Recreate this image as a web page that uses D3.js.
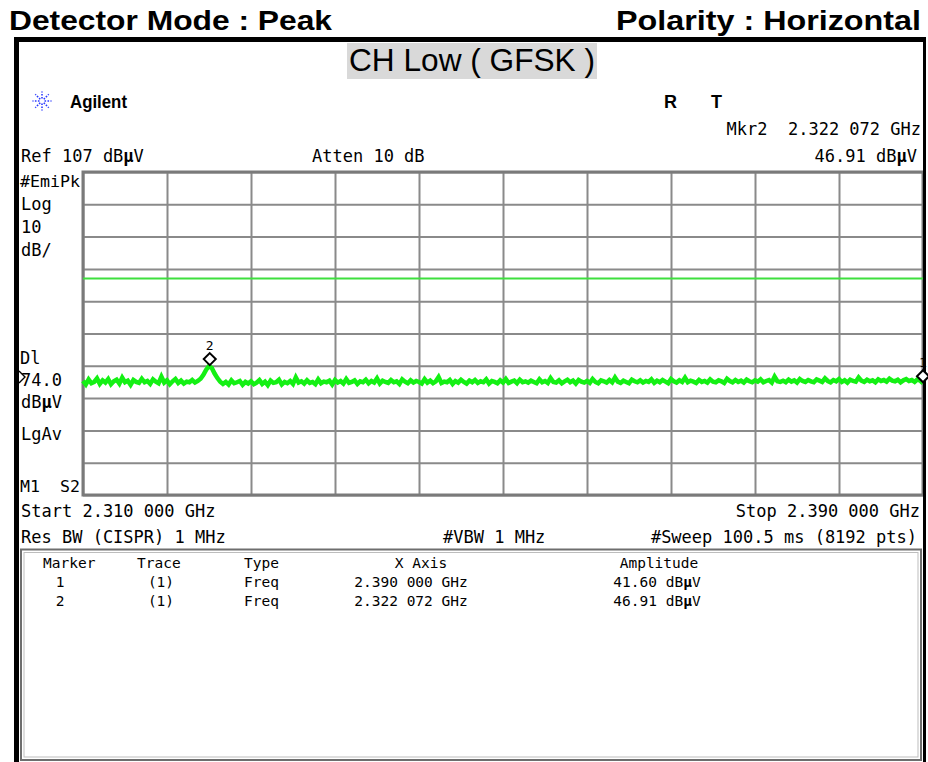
<!DOCTYPE html>
<html>
<head>
<meta charset="utf-8">
<script src="https://cdn.jsdelivr.net/npm/d3@7"></script>
<style>
  html, body { margin: 0; padding: 0; background: #fff; }
  svg { display: block; }
  text { white-space: pre; }
</style>
</head>
<body>
<svg id="chart" width="928" height="762"></svg>
<script>
// ---- Analyzer settings ----
const sweepStartMHz = 2310;
const sweepStopMHz = 2390;
const refLevel = 107;          // dBµV, top of screen
const dbPerDiv = 10;
const displayLine = 74.0;      // dBµV
const gridFreqs = [2310, 2318, 2326, 2334, 2342, 2350, 2358, 2366, 2374, 2382, 2390];
const gridLevels = [107, 97, 87, 77, 67, 57, 47, 37, 27, 17, 7];

// ---- Trace 1 (dBµV), evenly spaced across the sweep ----
const traceLevels = [
  42.3,41.2,42.8,41.6,42.0,43.1,41.4,42.5,41.8,42.9,41.3,42.2,42.7,41.5,43.3,41.9,42.4,41.1,42.6,42.0,
  41.7,43.0,41.9,42.3,41.4,42.8,42.1,41.6,43.6,41.8,42.5,41.3,42.2,42.9,41.7,42.4,41.5,42.1,41.9,42.6,
  41.8,42.3,43.0,44.2,45.8,46.9,46.3,44.6,43.2,42.1,41.4,42.0,41.2,42.5,41.6,41.9,42.3,41.1,42.0,41.5,
  42.2,41.3,41.8,42.6,41.4,42.1,41.0,42.4,41.7,41.9,42.7,41.2,42.0,41.6,42.3,41.4,43.4,41.8,42.2,41.5,
  42.5,41.7,42.0,41.3,42.8,41.6,42.1,41.9,42.4,41.2,42.6,41.8,42.3,41.5,42.9,41.7,42.0,42.5,41.4,42.2,
  41.9,42.7,41.6,42.3,41.8,43.1,41.5,42.4,42.0,41.7,42.6,41.9,42.2,41.4,42.8,42.1,41.6,42.5,41.8,42.3,
  42.0,41.5,42.9,41.8,42.4,41.6,42.2,43.5,41.7,42.1,41.9,42.6,41.4,42.3,41.8,42.7,42.0,41.5,42.4,41.9,
  42.6,41.7,42.2,41.9,42.8,41.5,42.3,42.0,41.6,42.5,41.8,42.9,41.7,42.1,42.4,41.6,42.7,41.9,42.2,41.8,
  42.4,42.0,41.6,42.8,41.9,42.3,41.7,43.2,42.0,41.8,42.5,41.6,42.2,42.7,41.9,42.4,41.5,42.6,42.1,41.8,
  42.3,41.7,42.9,42.0,41.6,42.5,42.2,41.8,42.6,41.9,43.4,42.1,41.7,42.4,42.0,41.6,42.7,42.2,41.9,42.5,
  41.8,42.3,42.0,42.8,41.7,42.4,41.9,42.6,42.1,41.6,42.9,42.2,41.8,42.5,42.0,43.3,41.9,42.4,42.1,41.7,
  42.6,42.0,42.3,41.8,42.8,42.1,41.9,42.5,42.2,41.7,43.0,42.3,41.9,42.6,42.0,42.4,41.8,42.7,42.2,41.9,
  42.5,42.1,42.8,41.9,42.3,42.6,41.8,43.6,42.2,42.0,42.4,41.9,42.7,42.1,42.5,41.8,42.9,42.3,42.0,42.6,
  42.2,41.9,42.8,42.4,42.0,43.1,42.3,41.9,42.6,42.2,42.9,42.0,42.5,41.8,42.7,42.3,42.1,43.4,42.4,42.0,
  42.7,42.2,42.5,41.9,42.8,42.3,42.6,42.1,43.0,42.4,42.2,42.7,41.9,42.5,42.9,42.3,42.6,42.0,42.8,42.4,
  41.6
];

// ---- Markers ----
const markerIds = [1, 2];
const markerFreqsMHz = [2390.000, 2322.072];
const markerAmps = [41.60, 46.91];

// ---- Layout ----
const svg = d3.select("#chart");
const plot = { left: 83, top: 172, right: 923, bottom: 495 };

const x = d3.scaleLinear().domain([sweepStartMHz, sweepStopMHz]).range([plot.left, plot.right]);
const y = d3.scaleLinear().domain([refLevel - 10 * dbPerDiv, refLevel]).range([plot.bottom, plot.top]);

const monoFont = "'DejaVu Sans Mono', 'Liberation Mono', monospace";
const sansFont = "'Liberation Sans', Arial, sans-serif";
const SCREEN_SIZE = 17;   // main screen annotation text
const TABLE_SIZE = 14.5;  // marker table text

const fmtGHz = f => {
  const s = (f / 1000).toFixed(6);
  return s.slice(0, 5) + " " + s.slice(5) + " GHz";
};
const fmtAmp = a => a.toFixed(2) + " dBµV";

// Sans-serif label, optionally fitted to a given width.
function sans(parent, str, xPos, yPos, size, weight, len) {
  const t = parent.append("text")
    .attr("x", xPos).attr("y", yPos)
    .attr("font-family", sansFont)
    .attr("font-size", size)
    .attr("font-weight", weight || "normal")
    .attr("fill", "#000")
    .text(str);
  if (len) t.attr("textLength", len).attr("lengthAdjust", "spacingAndGlyphs");
  return t;
}

// Instrument readout in the fixed-pitch screen font; a "µ" is drawn heavier.
function readout(parent, str, xPos, yPos, size = SCREEN_SIZE, anchor) {
  const t = parent.append("text")
    .attr("x", xPos).attr("y", yPos)
    .attr("font-family", monoFont)
    .attr("font-size", size)
    .attr("xml:space", "preserve")
    .attr("fill", "#000");
  if (anchor) t.attr("text-anchor", anchor);
  const k = str.indexOf("µ");
  if (k < 0) {
    t.text(str);
  } else {
    t.append("tspan").text(str.slice(0, k));
    t.append("tspan").attr("font-weight", "bold").text("µ");
    t.append("tspan").text(str.slice(k + 1));
  }
  return t;
}

// ---- Page headings ----
sans(svg, "Detector Mode : Peak", 9, 30, 28, "bold", 323);
sans(svg, "Polarity : Horizontal", 616, 30, 28, "bold", 305);

svg.append("rect").attr("x", 347).attr("y", 43).attr("width", 250).attr("height", 36).attr("fill", "#d9d9d9");
sans(svg, "CH Low ( GFSK )", 349, 71, 32, "normal", 246);

// ---- Instrument header ----
const logo = svg.append("g").attr("transform", "translate(42,101)");
d3.range(8).forEach(i => {
  const a = i * Math.PI / 4;
  logo.append("line")
    .attr("x1", Math.cos(a) * 2.5).attr("y1", Math.sin(a) * 2.5)
    .attr("x2", Math.cos(a) * 9.5).attr("y2", Math.sin(a) * 9.5)
    .attr("stroke", "#2b3bff").attr("stroke-width", 1.6)
    .attr("stroke-dasharray", "1.6,1.4");
});
sans(svg, "Agilent", 70, 108, 18, "bold", 57);
sans(svg, "R", 664, 108, 18, "bold");
sans(svg, "T", 711, 108, 18, "bold");

readout(svg, "Mkr" + markerIds[1] + "  " + fmtGHz(markerFreqsMHz[1]), 921, 135, SCREEN_SIZE, "end");
readout(svg, "Ref " + refLevel + " dBµV", 21, 162);
readout(svg, "Atten 10 dB", 312, 162);
readout(svg, fmtAmp(markerAmps[1]), 917, 162, SCREEN_SIZE, "end");

// ---- Left annotation column ----
readout(svg, "#EmiPk", 20, 187, 16.6);
readout(svg, "Log", 21, 210);
readout(svg, String(dbPerDiv), 21, 233);
readout(svg, "dB/", 21, 256);
readout(svg, "Dl", 20, 364);
readout(svg, displayLine.toFixed(1), 21, 386);
svg.append("path").attr("d", "M19,371 L25,377 L19,383").attr("fill", "none").attr("stroke", "#000").attr("stroke-width", 1.4);
readout(svg, "dBµV", 21, 408);
readout(svg, "LgAv", 21, 440);
readout(svg, "M1  S2", 20, 492, 16.6);

// ---- Grid ----
const gridG = svg.append("g");
gridG.append("g")
  .attr("transform", `translate(0,${plot.bottom})`)
  .call(d3.axisBottom(x).tickValues(gridFreqs).tickSize(-(plot.bottom - plot.top)).tickFormat(""))
  .call(g => g.select(".domain").remove())
  .call(g => g.selectAll(".tick line").attr("stroke", "#8a8a8a").attr("stroke-width", 2));
gridG.append("g")
  .attr("transform", `translate(${plot.left},0)`)
  .call(d3.axisLeft(y).tickValues(gridLevels).tickSize(-(plot.right - plot.left)).tickFormat(""))
  .call(g => g.select(".domain").remove())
  .call(g => g.selectAll(".tick line").attr("stroke", "#8a8a8a").attr("stroke-width", 2));
svg.append("rect")
  .attr("x", plot.left).attr("y", plot.top)
  .attr("width", plot.right - plot.left).attr("height", plot.bottom - plot.top)
  .attr("fill", "none").attr("stroke", "#7a7a7a").attr("stroke-width", 3);

// ---- Display line ----
svg.append("line")
  .attr("x1", plot.left).attr("x2", plot.right)
  .attr("y1", y(displayLine)).attr("y2", y(displayLine))
  .attr("stroke", "#3ee03e").attr("stroke-width", 2);

// ---- Trace ----
const step = (sweepStopMHz - sweepStartMHz) / (traceLevels.length - 1);
const traceLine = d3.line()
  .x((d, i) => x(sweepStartMHz + i * step))
  .y(d => y(d));
svg.append("path")
  .datum(traceLevels)
  .attr("d", traceLine)
  .attr("fill", "none")
  .attr("stroke", "#14f014")
  .attr("stroke-width", 4.5)
  .attr("stroke-linejoin", "miter");

// ---- Sweep info ----
readout(svg, "Start " + fmtGHz(sweepStartMHz), 21, 517);
readout(svg, "Stop " + fmtGHz(sweepStopMHz), 920, 517, SCREEN_SIZE, "end");
readout(svg, "Res BW (CISPR) 1 MHz", 21, 543);
readout(svg, "#VBW 1 MHz", 443, 543);
readout(svg, "#Sweep 100.5 ms (8192 pts)", 917, 543, SCREEN_SIZE, "end");

// ---- Marker table ----
svg.append("rect").attr("x", 21).attr("y", 549.5).attr("width", 900).attr("height", 210.5)
  .attr("fill", "#fff").attr("stroke", "#6e6e6e").attr("stroke-width", 2);
svg.append("rect").attr("x", 24).attr("y", 552.5).attr("width", 894).attr("height", 204.5)
  .attr("fill", "none").attr("stroke", "#bdbdbd").attr("stroke-width", 1);

const tbl = svg.append("g");
readout(tbl, "Marker", 43, 568, TABLE_SIZE);
readout(tbl, "Trace", 137, 568, TABLE_SIZE);
readout(tbl, "Type", 244, 568, TABLE_SIZE);
readout(tbl, "X Axis", 421, 568, TABLE_SIZE, "middle");
readout(tbl, "Amplitude", 659, 568, TABLE_SIZE, "middle");
markerIds.forEach((id, i) => {
  const by = 587 + i * 19;
  readout(tbl, String(id), 60, by, TABLE_SIZE, "middle");
  readout(tbl, "(1)", 161, by, TABLE_SIZE, "middle");
  readout(tbl, "Freq", 244, by, TABLE_SIZE);
  readout(tbl, fmtGHz(markerFreqsMHz[i]), 411, by, TABLE_SIZE, "middle");
  readout(tbl, fmtAmp(markerAmps[i]), 657, by, TABLE_SIZE, "middle");
});

// ---- Outer frame ----
svg.append("rect").attr("x", 14).attr("y", 37).attr("width", 5).attr("height", 725).attr("fill", "#000");
svg.append("rect").attr("x", 14).attr("y", 37).attr("width", 912).attr("height", 5).attr("fill", "#000");
svg.append("rect").attr("x", 923).attr("y", 37).attr("width", 3).attr("height", 725).attr("fill", "#000");

// ---- Markers on trace (drawn last so the edge marker stays visible) ----
const mk = svg.append("g");
markerIds.forEach((id, i) => {
  const cx = x(markerFreqsMHz[i]);
  const cy = y(markerAmps[i]) - 7;
  mk.append("path")
    .attr("d", `M${cx},${cy - 6} L${cx + 6},${cy} L${cx},${cy + 6} L${cx - 6},${cy} Z`)
    .attr("fill", "#fff").attr("stroke", "#000").attr("stroke-width", 2);
  readout(mk, String(id), cx, cy - 9, 13, "middle");
});
</script>
</body>
</html>
